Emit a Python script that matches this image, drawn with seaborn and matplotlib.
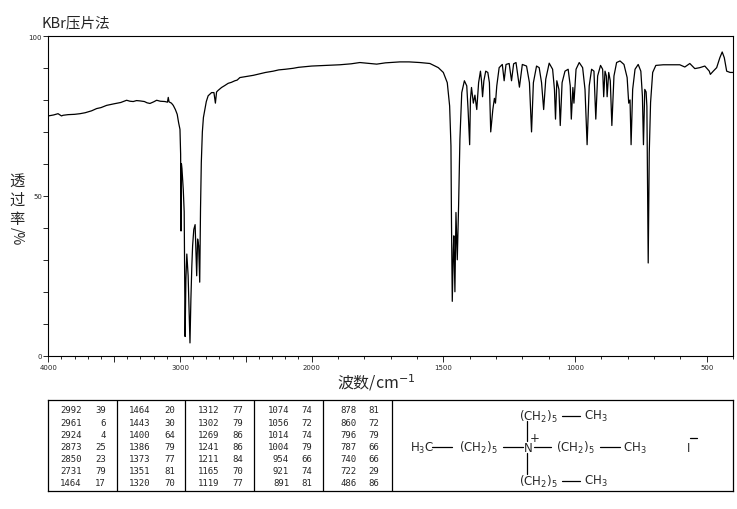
"""
IR spectrum (KBr pellet) with peak table and structure
"""

import numpy as np
import pandas as pd
import matplotlib
matplotlib.use("Agg")
import matplotlib.pyplot as plt
import seaborn as sns

# spectrum: wavenumber (cm-1) and transmittance (%)
wavenumber = [
    4000, 3960, 3926, 3900, 3888, 3850, 3800, 3759, 3720, 3671, 3633, 3600,
    3557, 3500, 3450, 3405, 3380, 3355, 3330, 3304, 3270, 3250, 3228, 3200,
    3177, 3150, 3114, 3095, 3089, 3083, 3065, 3051, 3035, 3021, 3010, 3000,
    2995, 2992, 2989, 2985, 2975, 2968, 2961, 2955, 2948, 2938, 2924, 2917,
    2910, 2904, 2895, 2885, 2873, 2866, 2858, 2850, 2844, 2838, 2830, 2822,
    2811, 2800, 2786, 2760, 2742, 2731, 2722, 2710, 2684, 2660, 2634, 2610,
    2583, 2566, 2545, 2500, 2469, 2443, 2393, 2350, 2292, 2250, 2200, 2140,
    2100, 2050, 2000, 1950, 1893, 1850, 1817, 1790, 1753, 1720, 1665, 1630,
    1589, 1551, 1519, 1500, 1485, 1476, 1471, 1469, 1466, 1462, 1460, 1456,
    1452, 1447, 1442, 1437, 1430, 1420, 1411, 1406, 1400, 1397, 1393, 1386,
    1380, 1373, 1366, 1359, 1355, 1351, 1346, 1339, 1331, 1325, 1320, 1312,
    1306, 1302, 1297, 1288, 1276, 1269, 1262, 1250, 1241, 1233, 1224, 1211,
    1200, 1184, 1173, 1165, 1158, 1146, 1136, 1127, 1119, 1111, 1098, 1085,
    1078, 1074, 1069, 1061, 1056, 1049, 1038, 1026, 1018, 1014, 1008, 1004,
    996, 984, 971, 962, 954, 946, 937, 928, 921, 914, 903, 895,
    891, 886, 881, 878, 872, 866, 860, 852, 842, 829, 814, 802,
    796, 791, 787, 781, 772, 760, 750, 744, 740, 735, 730, 727,
    722, 718, 713, 705, 693, 665, 630, 602, 583, 564, 545, 526,
    507, 490, 486, 475, 462, 450, 441, 433, 424, 411, 400,
]
transmittance = [
    75.0, 75.3, 75.7, 75.0, 75.2, 75.4, 75.5, 75.7, 76.0, 76.6, 77.3, 77.6,
    78.3, 78.8, 79.2, 79.9, 79.6, 79.5, 79.8, 79.7, 79.5, 79.1, 78.9, 79.4,
    79.9, 79.6, 79.5, 79.3, 80.8, 79.4, 79.0, 78.3, 77.0, 75.5, 72.8, 70.8,
    63.0, 39.0, 60.0, 58.5, 52.0, 45.0, 6.0, 24.0, 31.8, 25.0, 4.0, 17.7,
    28.0, 34.4, 39.5, 41.0, 25.0, 36.5, 34.4, 23.0, 45.8, 60.4, 70.0, 74.5,
    77.0, 79.5, 81.3, 82.3, 82.3, 79.0, 82.5, 83.0, 83.9, 84.5, 85.2, 85.5,
    86.0, 86.2, 87.0, 87.3, 87.5, 87.7, 88.2, 88.6, 89.0, 89.4, 89.6, 89.9,
    90.2, 90.4, 90.6, 90.8, 91.0, 91.3, 91.7, 91.5, 91.2, 91.6, 91.9, 91.9,
    91.7, 91.4, 90.1, 88.6, 85.4, 78.1, 65.6, 41.7, 17.0, 33.3, 37.5, 20.0,
    44.8, 30.0, 46.9, 67.7, 82.3, 86.0, 84.4, 77.0, 66.0, 80.2, 83.9, 79.0,
    81.5, 77.0, 85.4, 89.0, 86.0, 81.0, 86.0, 89.0, 88.6, 85.4, 70.0, 77.0,
    80.5, 79.0, 84.4, 90.1, 91.1, 86.0, 91.1, 91.4, 86.0, 91.3, 91.7, 84.0,
    91.1, 90.6, 85.4, 70.0, 85.4, 90.6, 90.1, 85.4, 77.0, 86.5, 91.5, 89.6,
    83.3, 74.0, 86.0, 83.3, 72.0, 85.4, 89.0, 89.6, 84.4, 74.0, 83.9, 79.0,
    89.6, 91.7, 90.1, 83.3, 66.0, 84.4, 89.6, 89.0, 74.0, 87.5, 90.8, 89.6,
    81.0, 89.0, 87.5, 81.0, 88.6, 86.0, 72.0, 87.5, 91.7, 92.2, 91.1, 87.0,
    79.0, 80.0, 66.0, 83.3, 89.6, 91.1, 89.0, 81.2, 66.0, 83.3, 82.5, 78.0,
    29.0, 63.5, 79.2, 88.6, 90.8, 91.0, 91.0, 91.0, 90.3, 91.4, 89.8, 90.1,
    90.6, 89.0, 88.0, 89.0, 90.1, 93.2, 95.0, 93.2, 89.0, 88.6, 88.6,
]

# peak table (five columns of seven rows)
peak_wn = [2992, 2961, 2924, 2873, 2850, 2731, 1464,
           1464, 1443, 1400, 1386, 1373, 1351, 1320,
           1312, 1302, 1269, 1241, 1211, 1165, 1119,
           1074, 1056, 1014, 1004, 954, 921, 891,
           878, 860, 796, 787, 740, 722, 486]
peak_t = [39, 6, 4, 25, 23, 79, 17,
          20, 30, 64, 79, 77, 81, 70,
          77, 79, 86, 86, 84, 70, 77,
          74, 72, 74, 79, 66, 74, 81,
          81, 72, 79, 66, 66, 29, 86]

x_major = [4000, 3500, 3000, 2500, 2000, 1500, 1000, 500]
x_labels = ["4000", "", "3000", "", "2000", "1500", "1000", "500"]
y_ticks = list(range(0, 101, 10))
y_labels = ["0", "", "", "", "", "50", "", "", "", "", "100"]

CJK = ["Noto Sans CJK SC", "DejaVu Sans"]
W, H = 737, 510


def fwd(w):
    # increasing map; the scale is stretched 2x below 2000 cm-1
    w = np.asarray(w, dtype=float)
    return np.where(w >= 2000, w - 4000, 2 * w - 6000)


def inv(u):
    u = np.asarray(u, dtype=float)
    return np.where(u >= -2000, u + 4000, (u + 6000) / 2)


def box(x0, y0, x1, y1):
    """figure-pixel box -> add_axes rect"""
    return [x0 / W, 1 - y1 / H, (x1 - x0) / W, (y1 - y0) / H]


sns.set_style("ticks")
plt.rcParams['font.family'] = CJK

fig = plt.figure(figsize=(W / 100, H / 100), dpi=100)

# ---- spectrum ----
ax = fig.add_axes(box(48.3, 37, 733, 356.7))
df = pd.DataFrame({"wn": wavenumber, "T": transmittance})
sns.lineplot(data=df, x="wn", y="T", ax=ax, color="black", linewidth=0.9,
             estimator=None, sort=False)
ax.set_xscale("function", functions=(fwd, inv))
ax.set_xticks(x_major)
ax.set_xticklabels(x_labels, fontsize=5, family="DejaVu Sans")
ax.set_xticks(np.arange(4000, 399, -100), minor=True)
ax.set_xlim(4000, 400)
ax.set_ylim(0, 100)
ax.set_xlabel("")
ax.set_ylabel("")
ax.set_yticks(y_ticks)
ax.set_yticklabels(y_labels, fontsize=5, family="DejaVu Sans")
ax.tick_params(axis="x", which="major", direction="out", length=4.5, width=0.7, pad=1.5)
ax.tick_params(axis="x", which="minor", direction="out", length=1.8, width=0.7)
ax.tick_params(axis="y", which="major", direction="out", length=3.5, width=0.7, pad=1)
for s in ax.spines.values():
    s.set_linewidth(0.8)
    s.set_color("black")

fig.text(41.7 / W, 1 - 23 / H, "KBr压片法", fontsize=10.5, ha="left", va="center")
fig.text(376 / W, 1 - 383 / H, "波数/cm$^{-1}$", fontsize=11.5, ha="center", va="center")
for ch, yy in zip("透过率", [181.7, 200.5, 219.5]):
    fig.text(16.7 / W, 1 - yy / H, ch, fontsize=11, ha="center", va="center")
fig.text(16.7 / W, 1 - 236 / H, "/%", fontsize=10, ha="center", va="center", rotation=-90)

# ---- peak table ----
tab = fig.add_axes(box(48.3, 400.7, 733, 492.3))
tab.set_xlim(0, 733 - 48.3)
tab.set_ylim(492.3 - 400.7, 0)
tab.set_xticks([])
tab.set_yticks([])
for s in tab.spines.values():
    s.set_linewidth(0.9)
    s.set_color("black")
for xd in [69, 137, 206, 274.4, 343.4]:
    tab.axvline(xd, color="black", linewidth=0.9)

wn_right = [33.4, 101.7, 170.7, 240.7, 308.4]
t_right = [57.7, 126.7, 195.0, 263.4, 330.7]
for i, (w, t) in enumerate(zip(peak_wn, peak_t)):
    col, row = divmod(i, 7)
    yy = 10.3 + 12.05 * row
    tab.text(wn_right[col], yy, str(w), ha="right", va="center",
             fontsize=6.5, family="DejaVu Sans Mono")
    tab.text(t_right[col], yy, str(t), ha="right", va="center",
             fontsize=6.5, family="DejaVu Sans Mono")

# ---- structure (tetrahexylammonium iodide) ----
ox, oy = 48.3, 400.7
fs = 8.5
grp = "(CH$_2$)$_5$"


def put(x, y, s, **kw):
    tab.text(x - ox, y - oy, s, ha="center", va="center", fontsize=fs,
             family="DejaVu Sans", **kw)


def bond(x0, y0, x1, y1):
    tab.plot([x0 - ox, x1 - ox], [y0 - oy, y1 - oy], color="black", linewidth=0.9)


# top arm
put(538, 416.7, grp)
bond(562, 416.7, 580, 416.7)
put(596, 416.7, "CH$_3$")
# middle row
put(421.7, 448.3, "H$_3$C")
bond(432, 448.3, 452, 448.3)
put(478, 448.3, grp)
bond(503, 448.3, 523, 448.3)
put(528, 448.3, "N")
put(535, 438.5, "+")
bond(534, 448.3, 551, 448.3)
put(575, 448.3, grp)
bond(600, 448.3, 620, 448.3)
put(635, 448.3, "CH$_3$")
put(689, 448.3, "I")
bond(689.5, 439, 697, 439)
# bottom arm
put(538, 481.7, grp)
bond(562, 481.7, 580, 481.7)
put(596, 481.7, "CH$_3$")
# vertical bonds
bond(526.7, 422, 526.7, 442)
bond(526.7, 454, 526.7, 475)

fig.savefig("out.png", dpi=100)
plt.close(fig)
